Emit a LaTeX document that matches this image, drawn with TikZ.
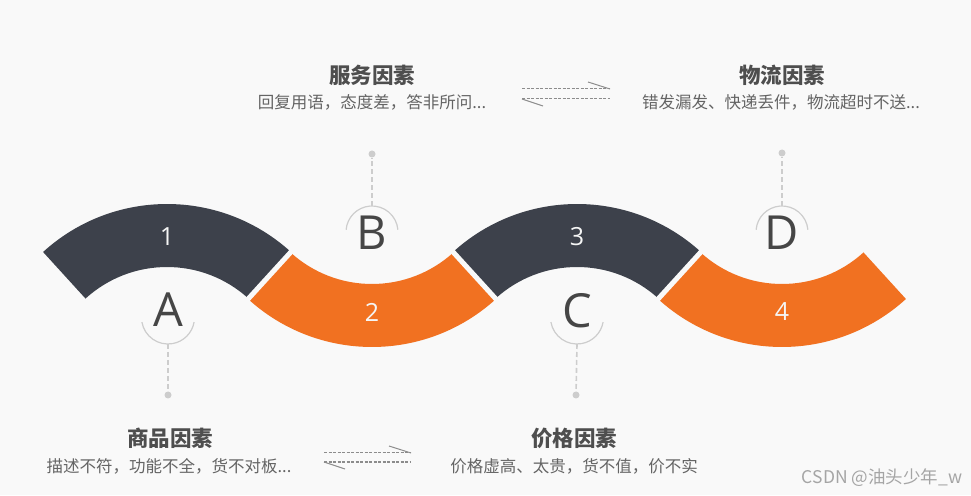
\documentclass[tikz,border=0pt]{standalone}
\usepackage{fontspec}
\setmainfont{Open Sans}
\newfontfamily\cjk{Noto Sans CJK SC}
\usetikzlibrary{calc}
\definecolor{bgc}{RGB}{249,249,249}
\definecolor{darkseg}{RGB}{61,65,75}
\definecolor{orangeseg}{RGB}{241,113,33}
\definecolor{letterc}{RGB}{70,70,70}
\definecolor{ringc}{RGB}{205,205,205}
\definecolor{titlec}{RGB}{78,78,78}
\definecolor{subc}{RGB}{100,100,100}
\definecolor{harpc}{RGB}{140,140,140}
\definecolor{wmc}{RGB}{165,165,165}
\tikzset{
  numlabel/.style={text=white!92!gray, font=\fontsize{25}{25}\selectfont, inner sep=0pt},
  letterlabel/.style={text=letterc, font=\fontsize{47}{47}\selectfont, inner sep=0pt},
  ringarc/.style={draw=ringc, line width=1.2pt},
  dashline/.style={draw=ringc, line width=1.6pt, dash pattern=on 5pt off 3pt},
  enddot/.style={circle, fill=ringc, minimum size=7pt, inner sep=0pt},
  titlelabel/.style={text=titlec, font=\cjk\bfseries\fontsize{21.5}{21.5}\selectfont, inner sep=0pt},
  sublabel/.style={text=subc, font=\cjk\fontsize{16.5}{16.5}\selectfont, inner sep=0pt},
  harpdash/.style={draw=harpc, line width=1pt, dash pattern=on 3pt off 1.5pt},
  harpbarb/.style={draw=harpc, line width=1pt},
  gapline/.style={draw=bgc, line width=5pt}
}
\begin{document}
\begin{tikzpicture}[x=1pt,y=1pt]
\useasboundingbox (0,0) rectangle (971,495);
\fill[bgc] (0,0) rectangle (971,495);
\def\th{47.66}
\def\ro{184}
\def\ri{121}
% centres of the four band arcs
\coordinate (C1) at (167,107);
\coordinate (C2) at (372,332);
\coordinate (C3) at (577,107);
\coordinate (C4) at (782,332);
% arches (up) and troughs (down)
\foreach \c/\col in {C1/darkseg, C3/darkseg}{
  \fill[\col] (\c) ++(\th:\ro) arc[start angle=\th, end angle=180-\th, radius=\ro]
     -- ($(\c)+(180-\th:\ri)$) arc[start angle=180-\th, end angle=\th, radius=\ri] -- cycle;
}
\foreach \c/\col in {C2/orangeseg, C4/orangeseg}{
  \fill[\col] (\c) ++(180+\th:\ro) arc[start angle=180+\th, end angle=360-\th, radius=\ro]
     -- ($(\c)+(360-\th:\ri)$) arc[start angle=360-\th, end angle=180+\th, radius=\ri] -- cycle;
}
% white gaps between the pieces
\draw[gapline] ($(C1)!0.37!(C2)$) -- ($(C1)!0.63!(C2)$);
\draw[gapline] ($(C3)!0.37!(C2)$) -- ($(C3)!0.63!(C2)$);
\draw[gapline] ($(C3)!0.37!(C4)$) -- ($(C3)!0.63!(C4)$);
% numbers
\node[numlabel] (n1) at (167,258) {1};
\node[numlabel] (n2) at (372,183) {2};
\node[numlabel] (n3) at (577,258) {3};
\node[numlabel] (n4) at (782,183) {4};
% letters with rings
\node[letterlabel] (LA) at (168,185) {A};
\node[letterlabel] (LB) at (372,262) {B};
\node[letterlabel] (LC) at (577,184) {C};
\node[letterlabel] (LD) at (782,262) {D};
\draw[ringarc] (168,177.5) ++(190:26.5) arc[start angle=190, end angle=350, radius=26.5];
\draw[ringarc] (577,177.5) ++(190:26.5) arc[start angle=190, end angle=350, radius=26.5];
\draw[ringarc] (372,263) ++(5:26) arc[start angle=5, end angle=175, radius=26];
\draw[ringarc] (782,263) ++(5:26) arc[start angle=5, end angle=175, radius=26];
\coordinate (Aend) at (168,151);
\coordinate (Cend) at (577,151);
\coordinate (Bend) at (372,289);
\coordinate (Dend) at (782,289);
\node[enddot] (Adot) at (168,100) {};
\node[enddot] (Cdot) at (576,100) {};
\node[enddot] (Bdot) at (372,341) {};
\node[enddot] (Ddot) at (782,342) {};
\draw[dashline] (Aend) -- (Adot);
\draw[dashline] (Cend) -- (Cdot);
\draw[dashline] (Bend) -- (Bdot);
\draw[dashline] (Dend) -- (Ddot);
% titles
\node[titlelabel] (tB) at (372,420) {服务因素};
\node[sublabel] (sB) at (372,393) {回复用语，态度差，答非所问...};
\node[titlelabel] (tD) at (782,420) {物流因素};
\node[sublabel] (sD) at (781,393) {错发漏发、快递丢件，物流超时不送...};
\node[titlelabel] (tA) at (170,57) {商品因素};
\node[sublabel] (sA) at (169,29) {描述不符，功能不全，货不对板...};
\node[titlelabel] (tC) at (574,57) {价格因素};
\node[sublabel] (sC) at (574,29) {价格虚高、太贵，货不值，价不实};
% harpoon pairs
\coordinate (h1a) at (522,406); \coordinate (h1b) at (610,406);
\coordinate (h1c) at (588,413);
\coordinate (h1d) at (522,396); \coordinate (h1e) at (610,396);
\coordinate (h1f) at (543,389);
\draw[harpdash] (h1a) -- (h1b);
\draw[harpbarb] (h1c) -- (h1b);
\draw[harpdash] (h1d) -- (h1e);
\draw[harpbarb] (h1d) -- (h1f);
\coordinate (h2a) at (324,42); \coordinate (h2b) at (411,42);
\coordinate (h2c) at (389,49);
\coordinate (h2d) at (324,33); \coordinate (h2e) at (411,33);
\coordinate (h2f) at (345,26);
\draw[harpdash] (h2a) -- (h2b);
\draw[harpbarb] (h2c) -- (h2b);
\draw[harpdash] (h2d) -- (h2e);
\draw[harpbarb] (h2d) -- (h2f);
% watermark
\node[text=wmc, font=\cjk\fontsize{17.5}{17.5}\selectfont, inner sep=0pt] (wm) at (882,17) {CSDN @油头少年\_w};
\end{tikzpicture}
\end{document}
